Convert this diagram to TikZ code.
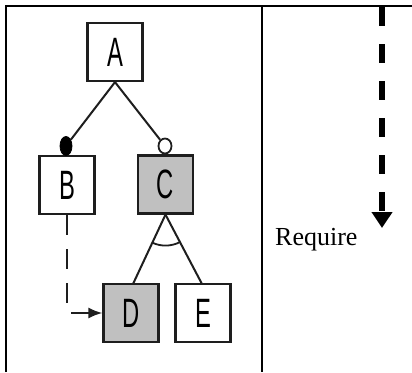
\documentclass[tikz,border=0pt]{standalone}
\usepackage{fontspec}
\usepackage{graphicx}
\setmainfont{Liberation Serif}
\newfontfamily\boxfont{Liberation Sans}
\usetikzlibrary{arrows.meta,shapes.geometric}
\definecolor{boxgray}{RGB}{192,192,192}
\definecolor{ink}{RGB}{30,30,30}
\tikzset{
  featbox/.style={draw=ink, line width=2.2pt, minimum width=55pt, minimum height=58pt, inner sep=0pt, fill=white},
  graybox/.style={featbox, fill=boxgray},
  edge/.style={draw=ink, line width=2pt},
  frameline/.style={draw=black, line width=2.4pt},
  mandot/.style={ellipse, fill=black, draw=black, line width=0.8pt, minimum width=12pt, minimum height=19pt, inner sep=0pt},
  optdot/.style={ellipse, fill=white, draw=ink, line width=1.8pt, minimum width=13pt, minimum height=15pt, inner sep=0pt}
}
\newcommand{\blab}[1]{{\boxfont\fontsize{41}{41}\selectfont\scalebox{0.58}[1]{#1}}}
\begin{document}
\begin{tikzpicture}[x=1pt,y=-1pt]
\useasboundingbox (0,0) rectangle (412,372);
% table frame
\draw[frameline] (6,372) -- (6,6) -- (412,6);
\draw[frameline] (262,6) -- (262,372);
% boxes
\node[featbox] (A) at (115,52) {\blab{A}};
\node[featbox] (B) at (67,185) {\blab{B}};
\node[graybox] (C) at (165.5,184.5) {\blab{C}};
\node[graybox] (D) at (131,313) {\blab{D}};
\node[featbox] (E) at (203,313) {\blab{E}};
% decorations
\node[mandot] (bm) at (66,146) {};
\node[optdot] (co) at (165,146) {};
\draw[edge] (A.south) -- (bm);
\draw[edge] (A.south) -- (co);
\draw[edge] (C.south) -- (133,284);
\draw[edge] (C.south) -- (202,284);
\draw[edge, line width=1.8pt] ([shift={(62:31)}]C.south) arc[start angle=62, end angle=115, radius=31];
% requires B -> D
\draw[edge, dash pattern=on 20pt off 14pt, -{Latex[length=14pt,width=11pt]}] (B.south) |- (D.west);
% legend arrow
\coordinate (rtop) at (382,7);
\coordinate (rbot) at (382,228);
\draw[line width=5.5pt, dash pattern=on 19pt off 18pt, -{Triangle[length=16pt,width=20pt]}] (rtop) -- (rbot);
\node[anchor=base west, inner sep=0pt, font=\fontsize{26}{30}\selectfont] (req) at (275,245) {Require};
\end{tikzpicture}
\end{document}
